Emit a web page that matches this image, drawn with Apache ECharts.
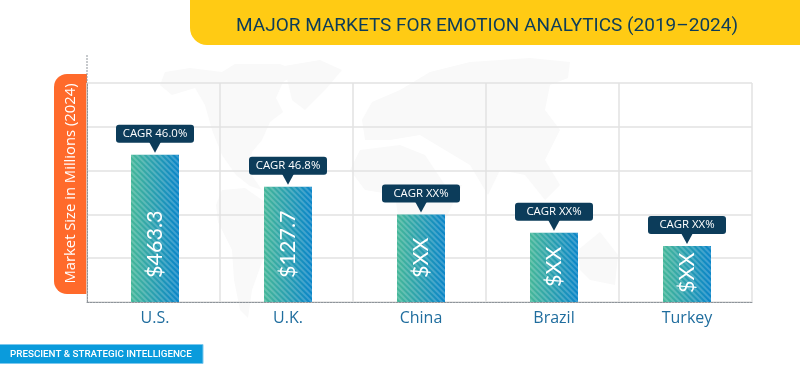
<!DOCTYPE html>
<html><head><meta charset="utf-8">
<script src="https://cdn.jsdelivr.net/npm/echarts@6/dist/echarts.min.js"></script>
<style>html,body{margin:0;padding:0;background:#fff}#c{width:800px;height:376px}</style>
</head><body><div id="c"></div>
<script>
const categories = ['U.S.', 'U.K.', 'China', 'Brazil', 'Turkey'];
const barHeights = [3.36, 2.63, 2.0, 1.58, 1.28];
const valueLabels = ['$463.3', '$127.7', '$XX', '$XX', '$XX'];
const cagrLabels = ['CAGR 46.0%', 'CAGR 46.8%', 'CAGR XX%', 'CAGR XX%', 'CAGR XX%'];
const labelLift = [24, 24, 24, 15, 9];

const navy = '#0c3c5a';
const gridColor = '#e2e2e2';
const mapColor = '#f9f9f9';
const continents = [
 [[165,72],[190,68],[222,72],[235,64],[280,64],[300,72],[283,82],[276,98],[283,112],[270,122],[262,140],[252,152],[248,170],[262,190],[250,186],[236,175],[222,155],[212,130],[205,105],[195,88],[172,95],[160,85]],
 [[284,66],[320,60],[342,70],[325,90],[305,110],[292,100]],
 [[222,190],[245,188],[262,200],[285,215],[272,240],[262,262],[252,290],[248,318],[240,310],[234,280],[232,250],[218,222],[216,205]],
 [[362,120],[372,102],[400,90],[430,72],[470,62],[530,58],[570,62],[568,78],[550,85],[545,110],[560,130],[545,160],[560,185],[545,200],[525,175],[500,170],[488,195],[470,165],[445,150],[420,135],[390,140],[365,140]],
 [[360,150],[400,145],[425,155],[445,185],[462,185],[445,220],[432,255],[412,262],[400,230],[395,195],[365,190],[350,170]],
 [[578,250],[600,232],[618,255],[615,285],[590,280],[580,270]]
];
const mapPolys = continents.map(points => ({
  type: 'polygon', z: -10, silent: true,
  shape: { points }, style: { fill: mapColor }
}));

function calloutItem(params, api) {
  const p = api.coord([api.value(0), api.value(1)]);
  const x = p[0], tip = p[1] - 2, h = 18, w = 78, ph = 10;
  const top = tip - ph - h;
  return {
    type: 'group',
    children: [
      { type: 'rect', shape: { x: x - w / 2, y: top, width: w, height: h, r: 3 }, style: { fill: navy } },
      { type: 'polygon', shape: { points: [[x - 6, top + h - 1], [x + 6, top + h - 1], [x, tip]] }, style: { fill: navy } },
      { type: 'text', style: { x, y: top + h / 2, text: cagrLabels[params.dataIndex], fill: '#fff',
        font: '11.4px "Open Sans"', align: 'center', verticalAlign: 'middle' } }
    ]
  };
}

const chart = echarts.init(document.getElementById('c'), null, { renderer: 'canvas' });
chart.setOption({
  animation: false,
  backgroundColor: '#fff',
  title: {
    text: 'MAJOR MARKETS FOR EMOTION ANALYTICS (2019\u20132024)',
    left: 236, top: 17, padding: 0,
    textStyle: { color: navy, fontFamily: 'Roboto', fontWeight: 400, fontSize: 19 }
  },
  grid: [
    { left: 87, right: 48, top: 83, bottom: 74 },
    { left: 88.5, right: 46.5, top: 83, bottom: 74 }
  ],
  xAxis: [
    { type: 'category', gridIndex: 0, data: categories,
      axisLine: { lineStyle: { color: '#8f959b', type: [2, 1], width: 1 } },
      axisTick: { show: false }, axisLabel: { show: false },
      splitLine: { show: true, lineStyle: { color: gridColor, width: 1.5 } } },
    { type: 'category', gridIndex: 1, data: categories,
      axisLine: { show: false }, axisTick: { show: false },
      axisLabel: { color: '#1f6d9e', fontFamily: 'Open Sans', fontSize: 16, margin: 8 },
      splitLine: { show: false } }
  ],
  yAxis: [
    { type: 'value', gridIndex: 0, min: 0, max: 5, interval: 1,
      name: 'Market Size in Millions (2024)', nameLocation: 'middle', nameGap: 9, nameRotate: 90,
      nameTextStyle: { color: '#fff', fontFamily: 'Open Sans', fontSize: 14.8, padding: [0, 0, 0, 18] },
      axisLine: { show: true, lineStyle: { color: '#8f959b', type: [2, 1], width: 1 } },
      axisTick: { show: false }, axisLabel: { show: false },
      splitLine: { show: true, lineStyle: { color: gridColor, width: 1.5 } } },
    { type: 'value', gridIndex: 1, min: 0, max: 5, interval: 1, show: false }
  ],
  series: [
    { type: 'bar', xAxisIndex: 1, yAxisIndex: 1, barWidth: 48, z: 3,
      data: barHeights.map((v, i) => ({
        value: v,
        label: { show: true, position: 'insideBottom', distance: labelLift[i], rotate: 90, align: 'left', verticalAlign: 'middle',
          formatter: valueLabels[i], color: '#fff', fontFamily: 'Lato', fontWeight: 400, fontSize: 21.5 }
      })),
      itemStyle: {
        color: { type: 'linear', x: 0, y: 0, x2: 1, y2: 0,
          colorStops: [{ offset: 0, color: '#45b799' }, { offset: 1, color: '#0a85c8' }] },
        decal: { symbol: 'rect', color: 'rgba(255,255,255,0.2)', dashArrayX: [1, 0], dashArrayY: [2, 2], rotation: Math.PI / 4 }
      } },
    { type: 'custom', xAxisIndex: 1, yAxisIndex: 1, z: 5, renderItem: calloutItem,
      data: barHeights.map((v, i) => [i, v]), encode: { x: 0, y: 1 } }
  ],
  graphic: [
    ...mapPolys,
    { type: 'line', silent: true, shape: { x1: 87, y1: 55, x2: 87, y2: 83 }, style: { stroke: '#8f959b', lineDash: [2, 1] } },
    { type: 'rect', z: -5, silent: true, shape: { x: 54, y: 74, width: 33, height: 220, r: [13, 0, 0, 13] }, style: { fill: '#ff6a2b' } },
    { type: 'rect', z: -5, silent: true, shape: { x: 190, y: 0, width: 610, height: 45, r: [0, 0, 0, 17] }, style: { fill: '#ffcb14' } },
    { type: 'rect', silent: true, shape: { x: -2, y: 344.5, width: 205, height: 19 }, style: { fill: '#0a9bdc', stroke: '#7cc8ee', lineWidth: 1 } },
    { type: 'text', silent: true, style: { x: 10, y: 354.5, text: 'PRESCIENT & STRATEGIC INTELLIGENCE', fill: '#fff',
      font: '500 9.8px Roboto', verticalAlign: 'middle' } }
  ]
});
</script></body></html>
